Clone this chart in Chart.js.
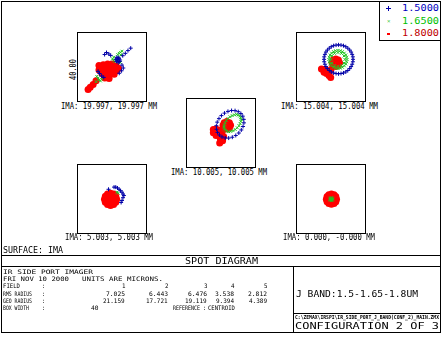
<!DOCTYPE html>
<html>
<head>
<meta charset="utf-8">
<script src="https://cdn.jsdelivr.net/npm/chart.js@4.4.1/dist/chart.umd.min.js"></script>
<style>
    html, body { margin: 0; padding: 0; background: #fff; overflow: hidden; }
    #stage { position: relative; width: 442px; height: 342px; background: #fff; }
    .ln { position: absolute; background: #000; }
    .frame { position: absolute; border: 1px solid #000; box-sizing: border-box; }
    .txt { position: absolute; white-space: pre; font-family: 'DejaVu Sans Mono', monospace; transform-origin: 0 50%; }
    .frame canvas { display: block; }
</style>
</head>
<body>
<div id="stage"></div>
<script>
// Wavelengths (um) and per-field summary
const wavelengths = ['1.5000', '1.6500', '1.8000'];
const fieldNumbers = ['1', '2', '3', '4', '5'];
const fieldLabels = [
    'IMA: 19.997, 19.997 MM',
    'IMA: 15.004, 15.004 MM',
    'IMA: 10.005, 10.005 MM',
    'IMA: 5.003, 5.003 MM',
    'IMA: 0.000, -0.000 MM'
];
const rmsRadius = ['7.025', '6.443', '6.476', '3.538', '2.812'];
const geoRadius = ['21.159', '17.721', '19.119', '9.394', '4.389'];
const boxWidth = 40; // microns

// Ray intercepts relative to the centroid, microns [x, y]
const f1Blue = [[12.9,13.0],[11.0,11.3],[9.2,9.4],[7.4,7.8],[-5.1,8.6],[-3.8,10.0],[-2.2,9.0],[-0.9,8.0],
    [3.4,6.7],[4.9,5.7],[4.0,4.7],[2.6,5.3],[5.3,3.8],[4.3,3.0],[3.0,3.9],[3.6,6.0],[4.6,6.4],[5.6,4.8],[3.8,5.3],
    [6.9,1.3],[7.8,-0.7],[6.6,-2.6],[5.0,-4.3],[-9.6,-3.0],[-8.6,-4.5],[-7.1,-6.2],[-5.7,-7.2]];
const f1Green = [[6.9,10.9],[5.9,10.1],[5.0,9.4],[4.0,8.6],[1.2,6.8],[0.4,5.6],[1.0,4.6],[2.0,3.8],[5.8,3.0],
    [6.2,8.2],[-10.5,-6.5],[-9.7,-7.6],[-9.0,-8.8],[-10.9,-10.1],[-8.0,-9.6],[-7.2,-8.4]];
const f1Red = [[-9,1],[-6,1.5],[-3,2],[0,2],[3,0.5],[-9,-2],[-6,-1.5],[-3,-1.5],[0,-1.5],[3,-2.5],[4.5,-1],
    [-7,-4.5],[-4,-4.5],[-1,-4.5],[1.5,-5],[-5,-7.5],[-2,-8],[-11,-9.5],[-13,-12],[-15,-14],[-16.5,-15.5]];

const f2Blue = [[15.2,5.3],[15.1,7.0],[14.6,8.7],[13.9,10.3],[12.9,11.7],[11.6,13.0],[10.2,14.0],[8.6,14.7],
    [6.9,15.1],[5.2,15.3],[3.5,15.1],[1.8,14.7],[0.2,14.0],[-1.2,13.0],[-2.5,11.7],[-3.5,10.3],[-4.2,8.7],
    [-4.7,7.0],[-4.8,5.3],[-4.7,3.6],[-4.2,1.9],[-3.5,0.3],[-2.5,-1.1],[-1.2,-2.4],[0.2,-3.4],[1.8,-4.1],
    [3.5,-4.5],[5.2,-4.7],[6.9,-4.5],[8.6,-4.1],[10.2,-3.4],[11.6,-2.4],[12.9,-1.1],[13.9,0.3],[14.6,1.9],[15.1,3.6]];
const f2Green = [[11.0,5.2],[10.8,6.8],[10.2,8.3],[9.2,9.6],[7.9,10.6],[6.4,11.2],[4.8,11.4],[3.2,11.2],
    [1.7,10.6],[0.4,9.6],[-0.6,8.3],[-1.2,6.8],[-1.4,5.2],[-1.2,3.6],[-0.6,2.1],[0.4,0.8],[1.7,-0.2],[3.2,-0.8],
    [4.8,-1.0],[6.4,-0.8],[7.9,-0.2],[9.2,0.8],[10.2,2.1],[10.8,3.6],
    [9.6,5.2],[9.0,7.6],[7.2,9.4],[4.8,10.0],[2.4,9.4],[0.6,7.6],[0.0,5.2],[0.6,2.8],[2.4,1.0],[4.8,0.4],[7.2,1.0],[9.0,2.8]];
const f2Red = [[5.9,3.0],[5.1,4.8],[3.3,5.6],[1.5,4.8],[0.7,3.0],[1.5,1.2],[3.3,0.4],[5.1,1.2],
    [-6.6,-1.3],[-4.8,-1.8],[-4.8,-3.6],[-3.1,-2.6],[-3.1,-4.5],[-1.4,-4.0],[-1.4,-5.9],[-0.2,-7.2],[0.0,-1.8]];

const f3Blue = [[13.7,13.4],[11.9,14.7],[9.7,15.4],[7.3,15.5],[4.8,14.9],[2.4,13.7],[0.3,12.0],[-1.4,9.9],
    [-2.6,7.5],[-3.2,5.0],[-3.1,2.6],[-2.4,0.4],[-1.1,-1.4],[0.7,-2.7],[2.9,-3.4],[5.3,-3.5],[7.8,-2.9],
    [10.2,-1.7],[12.3,0.0],[14.0,2.1],[15.2,4.5],[15.8,7.0],[15.7,9.4],[15.0,11.6]];
const f3Green = [[12.9,11.7],[12.0,12.4],[10.7,12.7],[9.3,12.5],[7.7,12.0],[6.2,11.2],[4.8,10.0],[3.6,8.6],
    [2.8,7.1],[2.3,5.5],[2.1,4.1],[2.4,2.8],[3.1,1.9],[4.0,1.2],[5.3,0.9],[6.7,1.1],[8.3,1.6],[9.8,2.4],
    [11.2,3.6],[12.4,5.0],[13.2,6.5],[13.7,8.1],[13.9,9.5],[13.6,10.8]];
const f3Red = [[6.6,5.3],[5.8,7.1],[4.0,7.9],[2.2,7.1],[1.4,5.3],[2.2,3.5],[4.0,2.7],[5.8,3.5],
    [-5.3,2.4],[-5.3,0.1],[-3.4,2.8],[-3.4,0.5],[-3.4,-1.8],[-1.4,1.4],[-1.4,-1.1],[0.5,0.1],[0.5,2.4],
    [-0.5,-3.8],[1.1,-5.3],[-0.9,-6.9],[1.8,-2.4]];

const f4Blue = [[-2.4,6.7],[1.4,8.2],[2.6,8.2],[3.8,7.6],[4.9,6.7],[5.9,5.7],[6.9,4.7],[7.6,3.4],[8.2,2.4],
    [7.6,0.9],[6.9,-1.0],[6.3,-2.4]];
const f4Green = [[4.3,4.0],[3.4,4.7]];
const f4Red = [[3.2,-0.2],[2.6,1.9],[1.1,3.4],[-1.0,4.0],[-3.1,3.4],[-4.6,1.9],[-5.2,-0.2],[-4.6,-2.3],
    [-3.1,-3.8],[-1.0,-4.4],[1.1,-3.8],[2.6,-2.3],[1.1,-0.2],[0.1,1.6],[-2.1,1.6],[-3.1,-0.2],[-2.1,-2.0],
    [0.1,-2.0],[-1.0,-0.2]];

const f5Blue = [];
const f5Green = [[0.2,-0.1],[1.2,-0.1],[-0.8,-0.1],[0.2,0.9],[0.2,-1.1],[0.9,0.6],[-0.5,0.6],[0.9,-0.8],[-0.5,-0.8]];
const f5Red = [[3.8,-0.1],[3.3,1.7],[2.1,2.9],[0.3,3.4],[-1.5,2.9],[-2.7,1.7],[-3.2,-0.1],[-2.7,-1.9],
    [-1.5,-3.1],[0.3,-3.6],[2.1,-3.1],[3.3,-1.9],[0.3,-0.1]];

const spots = [
    [f1Blue, f1Green, f1Red],
    [f2Blue, f2Green, f2Red],
    [f3Blue, f3Green, f3Red],
    [f4Blue, f4Green, f4Red],
    [f5Blue, f5Green, f5Red]
];

const BLUE = '#0000a8', GREEN = '#22c422', RED = '#ff0000';
const stage = document.getElementById('stage');

function line(x, y, w, h) {
    const d = document.createElement('div');
    d.className = 'ln';
    Object.assign(d.style, { left: x + 'px', top: y + 'px', width: w + 'px', height: h + 'px' });
    stage.appendChild(d);
    return d;
}

function frame(x, y, w, h) {
    const d = document.createElement('div');
    d.className = 'frame';
    Object.assign(d.style, { left: x + 'px', top: y + 'px', width: w + 'px', height: h + 'px' });
    stage.appendChild(d);
    return d;
}

// Text squeezed to a given width so it sits like the plotter font.
function put(str, x, cy, cap, w, opt) {
    opt = opt || {};
    const size = cap / 0.73;
    const lh = Math.ceil(cap) + 1;
    const el = document.createElement('div');
    el.className = 'txt';
    el.textContent = str;
    el.style.fontSize = size + 'px';
    el.style.lineHeight = lh + 'px';
    el.style.height = lh + 'px';
    el.style.color = opt.color || '#000';
    if (opt.bold) el.style.fontWeight = 'bold';
    stage.appendChild(el);
    const natural = el.getBoundingClientRect().width;
    const k = w / natural;
    if (opt.rotate) {
        el.style.transformOrigin = '50% 50%';
        el.style.left = (x - natural / 2) + 'px';
        el.style.top = (cy - lh / 2) + 'px';
        el.style.transform = `rotate(-90deg) scaleX(${k})`;
    } else {
        el.style.left = (opt.right ? x - w : x) + 'px';
        el.style.top = (cy - lh / 2) + 'px';
        el.style.transform = `scaleX(${k})`;
    }
    return el;
}

// Outer plot frame and panels
frame(1, 1, 440, 332);
frame(379, 1, 62, 40);
line(1, 255, 440, 1);
line(1, 266, 440, 1);
line(293, 266, 1, 66);
line(293, 313, 148, 1);

// Spot boxes, one small chart per field
const boxPos = [[77, 32], [296, 32], [186, 98], [77, 164], [296, 164]];
const labelPos = [[61, 96, 105.5], [281, 97, 105.5], [171, 96, 171.5], [65, 88, 237], [283, 92, 237]];

spots.forEach((sets, i) => {
    const [bx, by] = boxPos[i];
    const holder = frame(bx, by, 70, 70);
    const canvas = document.createElement('canvas');
    canvas.width = 68;
    canvas.height = 68;
    holder.appendChild(canvas);

    const toXY = arr => arr.map(([x, y]) => ({ x, y }));
    new Chart(canvas.getContext('2d'), {
        type: 'scatter',
        data: {
            datasets: [
                { label: wavelengths[0], data: toXY(sets[0]), pointStyle: 'cross', pointRadius: 2,
                  borderColor: BLUE, backgroundColor: BLUE, borderWidth: 1, order: 1 },
                { label: wavelengths[1], data: toXY(sets[1]), pointStyle: 'crossRot', pointRadius: 2,
                  borderColor: GREEN, backgroundColor: GREEN, borderWidth: 1, order: 2 },
                { label: wavelengths[2], data: toXY(sets[2]), pointStyle: 'circle', pointRadius: 3.5,
                  borderColor: RED, backgroundColor: RED, borderWidth: 0, order: 3 }
            ]
        },
        options: {
            responsive: false,
            animation: false,
            devicePixelRatio: 1,
            events: [],
            layout: { padding: 0 },
            plugins: { legend: { display: false }, tooltip: { enabled: false } },
            scales: {
                x: { type: 'linear', min: -boxWidth / 2, max: boxWidth / 2, display: false },
                y: { type: 'linear', min: -boxWidth / 2, max: boxWidth / 2, display: false }
            }
        }
    });

    const [lx, lw, ly] = labelPos[i];
    put(fieldLabels[i], lx, ly, 6.5, lw);
});

// Box width scale beside the first box
put(boxWidth.toFixed(2), 73, 69.5, 6, 21, { rotate: true });

// Wavelength key
const keyColors = ['#0000c0', '#00c000', '#c00000'];
const keyY = [8.5, 21, 33.5];
wavelengths.forEach((w, i) => put(w, 402, keyY[i], 6, 37, { color: keyColors[i] }));
line(386, 8, 5, 1).style.background = BLUE;
line(388, 6, 1, 5).style.background = BLUE;
put('\u00d7', 386.5, 21, 4, 3.5, { color: GREEN });
line(387, 33, 3, 2).style.background = RED;

// Bottom title block
const cap = 4.45;  // small table text
put('SURFACE: IMA', 3, 250.5, 6, 60);
put('SPOT DIAGRAM', 185, 260.7, 6.5, 73);
put('IR SIDE PORT IMAGER', 3, 272, cap, 90);
put('FRI NOV 10 2000', 3, 279.2, cap, 66);
put('UNITS ARE MICRONS.', 82, 279.2, cap, 81);

const colRight = [125, 168, 207, 234, 267];
const rowY = [286.4, 293.6, 300.8, 308];
put('FIELD', 3, rowY[0], cap, 17);
put('RMS RADIUS', 3, rowY[1], cap, 29);
put('GEO RADIUS', 3, rowY[2], cap, 29);
put('BOX WIDTH', 3, rowY[3], cap, 26);
rowY.forEach(y => put(':', 41.5, y, cap, 3));
fieldNumbers.forEach((n, i) => put(n, colRight[i], rowY[0], cap, 3.5, { right: true }));
rmsRadius.forEach((v, i) => put(v, colRight[i], rowY[1], cap, v.length * 3.8, { right: true }));
geoRadius.forEach((v, i) => put(v, colRight[i], rowY[2], cap, v.length * 3.6, { right: true }));
put(String(boxWidth), 91, rowY[3], cap, 7.5);
put('REFERENCE', 173, rowY[3], cap, 27);
put(':', 202.5, rowY[3], cap, 3);
put('CENTROID', 208, rowY[3], cap, 27);

put('J BAND:1.5-1.65-1.8UM', 296, 293.7, 6.5, 122);
put('C:\\ZEMAX\\IRSPI\\IR_SIDE_PORT_J_BAND(CONF_2)_MAIN.ZMX', 295, 317.5, 4, 144, { bold: true });
put('CONFIGURATION 2 OF 3', 295, 326, 6.5, 144);
</script>
</body>
</html>
